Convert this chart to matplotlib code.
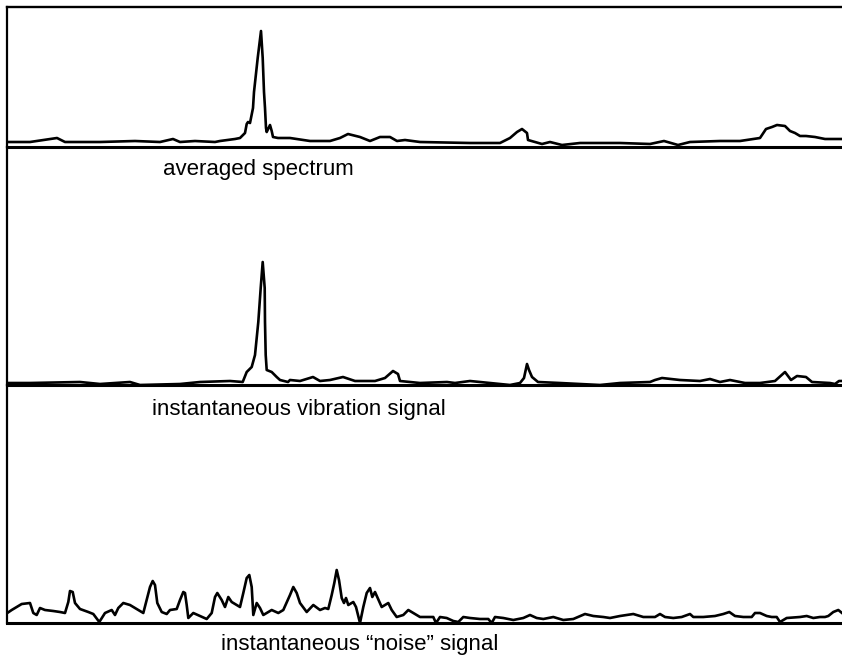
import matplotlib
matplotlib.use("Agg")
import matplotlib.pyplot as plt

plt.rcParams["font.family"] = ["Liberation Sans", "DejaVu Sans"]

# Traces: x position along the record, y height above the baseline
avg_x = [7, 30, 57, 65, 100, 135, 160, 173, 180, 195, 215, 220, 235, 240, 245,
         246.7, 248, 250, 253, 254, 257.7, 261, 262.7, 264, 265, 266, 266.7, 270,
         271.7, 273, 278, 290, 310, 330, 340, 348, 360, 370, 380, 390, 397, 405,
         420, 470, 500, 510, 517, 522, 527, 528, 535, 542, 550, 562, 580, 620, 650,
         664, 678, 690, 720, 740, 760, 766, 772, 777, 785, 790, 795, 800, 806, 815,
         825, 842]
avg_y = [5, 5, 9, 5, 5, 6, 5, 8, 5, 6, 5, 6, 8, 9, 14,
         23, 25, 24, 39, 55, 89, 116, 89, 55, 39, 19, 15, 22,
         16, 10, 9, 9, 6, 6, 9, 13, 10, 6, 10, 10, 6, 7,
         5, 4, 4, 9, 15, 18, 14, 7, 5, 3, 5, 2, 4, 4, 3,
         6, 2, 5, 6, 6, 9, 18, 20, 22, 21, 16, 14, 11, 11, 10,
         8, 8]

vib_x = [7, 30, 80, 100, 130, 140, 180, 200, 230, 242.7, 246.7, 251.7, 255, 258.3,
         260.7, 262.7, 264.7, 265, 265.7, 266.7, 271.7, 276.7, 280, 288, 290, 300,
         313, 320, 330, 343, 355, 375, 385, 393, 398, 400, 420, 447, 455, 470, 490,
         510, 520, 524, 527, 529, 532, 538, 560, 580, 600, 620, 650, 655, 662, 680,
         700, 710, 720, 730, 745, 760, 775, 785, 791, 797, 806, 812, 830, 835, 839,
         842]
vib_y = [2, 2, 3, 1, 3, 0, 1, 3, 4, 3, 13, 18, 30, 63,
         97, 123, 97, 63, 30, 15, 13, 8, 5, 3, 5, 4,
         8, 4, 5, 8, 4, 4, 7, 14, 11, 4, 2, 3, 2, 4, 2,
         0, 2, 7, 21, 15, 8, 3, 2, 1, 0, 2, 3, 5, 7, 5,
         4, 6, 3, 5, 2, 2, 4, 13, 5, 9, 8, 3, 2, 1, 4,
         4]

noise_x = [7.3, 11.7, 16.7, 21.7, 30, 33.3, 36.7, 40, 45, 53.3, 60, 65, 68.3, 70,
           72.7, 75, 80, 88.3, 93.3, 99.3, 105, 111.7, 115, 118.3, 123.3, 130, 135,
           143.3, 146.7, 150, 152.7, 155, 157.3, 161.7, 166.7, 170, 176.7, 180, 183.3,
           185, 186.7, 188.3, 193.3, 200, 206.7, 211.7, 215, 217.3, 221.7, 225, 228.3,
           231.7, 240, 243.3, 246.7, 249.3, 251.7, 253.3, 256.7, 260, 263.3, 268.3,
           271.7, 278.3, 283.3, 290, 293.3, 296.7, 300, 306.7, 313.3, 320, 325, 328.3,
           331.7, 334.3, 336.7, 339, 341.7, 344, 346, 348.3, 353.3, 356, 360, 363.3,
           366.7, 370, 372.3, 375, 377.7, 381.7, 388.3, 391.7, 396.7, 403.3, 408.3,
           413.3, 420, 430, 433.3, 436, 440, 446.7, 453.3, 458.3, 463.3, 470, 480,
           488.3, 491.7, 495, 503.3, 513.3, 523.3, 530, 536.7, 543.3, 553.3, 563.3,
           573.3, 585, 593.3, 603.3, 610, 615, 620, 626.7, 633.3, 643.3, 655, 660, 665,
           673.3, 681.7, 690, 693.3, 703.3, 715, 723.3, 729.3, 735, 743.3, 751.7, 755,
           760, 766.7, 771.7, 776.7, 780, 786.7, 800, 806.7, 813.3, 820, 825, 828.3,
           833.3, 838.3, 842]
noise_y = [10, 13, 16, 19, 20, 10, 8, 15, 13, 12, 11, 10, 21, 32,
           31, 20, 14, 11, 9, 1, 10, 13, 8, 15, 20, 18, 15,
           10, 23, 36, 42, 38, 20, 11, 9, 13, 14, 23, 31,
           30, 18, 5, 10, 7, 4, 10, 26, 30, 23, 16, 26,
           21, 16, 30, 45, 48, 36, 8, 20, 15, 8, 11,
           13, 10, 13, 28, 36, 30, 20, 11, 18, 13, 15, 14,
           28, 40, 53, 43, 25, 20, 25, 18, 21, 16, 0, 16,
           30, 35, 26, 31, 25, 16, 20, 13, 6, 8, 13,
           10, 6, 6, 6, 0, 6, 5, 2, 1, 6, 5, 4,
           4, 0, 6, 5, 3, 5, 8, 5, 4, 6, 3,
           4, 9, 7, 6, 5, 6, 7, 8, 9, 6, 6, 9, 6,
           5, 6, 9, 6, 6, 7, 9, 11, 7, 6, 6, 10,
           10, 7, 6, 6, 1, 5, 6, 7, 5, 6, 6, 7,
           11, 13, 10]

labels = ["averaged spectrum", "instantaneous vibration signal",
          "instantaneous \u201cnoise\u201d signal"]
label_x = [163, 152, 221]

W, H = 842, 656
LEFT = 7
# (top, baseline) of each strip in pixels from the top of the image
strips = [(7, 147), (147, 385), (385, 623)]
label_drop = [28, 30, 27]

fig = plt.figure(figsize=(W / 100, H / 100), dpi=100)

series = [(avg_x, avg_y), (vib_x, vib_y), (noise_x, noise_y)]
for i, ((top, base), (xs, ys)) in enumerate(zip(strips, series)):
    ax = fig.add_axes([LEFT / W, (H - base) / H, (W - LEFT) / W, (base - top) / H])
    ax.plot(xs, ys, color="black", linewidth=1.9, solid_joinstyle="round")
    ax.set_xlim(LEFT, W)
    ax.set_ylim(0, base - top)
    ax.set_xticks([])
    ax.set_yticks([])
    ax.patch.set_alpha(0)
    ax.spines["right"].set_visible(False)
    ax.spines["top"].set_visible(i == 0)
    ax.spines["top"].set_linewidth(1.7)
    ax.spines["left"].set_linewidth(1.6)
    ax.spines["bottom"].set_linewidth(2.2)
    ax.text(label_x[i], -label_drop[i], labels[i], fontsize=16,
            va="baseline", ha="left", clip_on=False)

fig.savefig("out.png", dpi=100)
